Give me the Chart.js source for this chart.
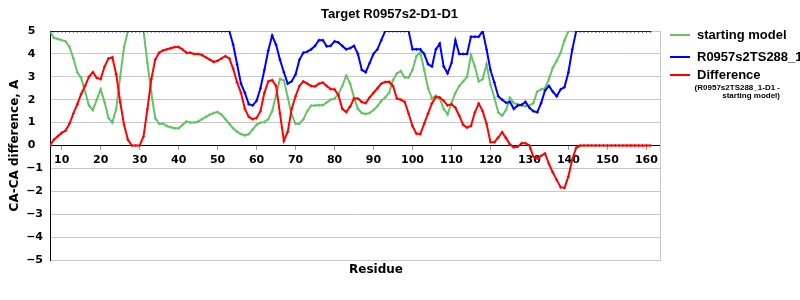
<!DOCTYPE html>
<html>
<head>
<meta charset="utf-8">
<title>Target R0957s2-D1-D1</title>
<script src="https://cdn.jsdelivr.net/npm/chart.js@4"></script>
<style>
  body { margin: 0; background: #fff; }
  #wrap { position: relative; width: 800px; height: 300px; overflow: hidden; color: #000;
          font-family: "Liberation Sans", Arial, sans-serif; font-weight: bold; }
  #title { position: absolute; top: 6px; left: 0; width: 779px; text-align: center; font-size: 13px; }
  #xTitle { position: absolute; top: 262px; left: 276px; width: 200px; text-align: center;
            font-family: "DejaVu Sans", sans-serif; font-size: 12px; }
  .key { position: absolute; left: 670px; width: 20px; height: 2px; }
  .keyText { position: absolute; left: 697px; font-size: 13px; line-height: 14px; white-space: nowrap; }
  #keyNote { position: absolute; left: 680px; width: 100px; top: 84px; text-align: right;
             font-size: 8px; line-height: 8px; white-space: nowrap; }
</style>
</head>
<body>
<div id="wrap">
  <canvas id="diffChart" width="800" height="300"></canvas>
  <div id="title">Target R0957s2-D1-D1</div>
  <div id="xTitle">Residue</div>
  <div class="key" style="top:34px;background:#66c266"></div>
  <div class="keyText" style="top:28px">starting model</div>
  <div class="key" style="top:56px;background:#0000ff"></div>
  <div class="keyText" style="top:50px">R0957s2TS288_1-D1</div>
  <div class="key" style="top:74px;background:#ff0000"></div>
  <div class="keyText" style="top:68px">Difference</div>
  <div id="keyNote">(R0957s2TS288_1-D1 -<br>starting model)</div>
</div>
<script>
// Residues 7..161, one value per residue
const firstResidue = 7;

// CA-CA difference of the starting model
const startingModel = [
    5.0, 4.7, 4.65, 4.6, 4.55, 4.3, 3.8, 3.2, 2.95, 2.35,
    1.75, 1.55, 2.0, 2.45, 1.9, 1.2, 1.0, 1.6, 3.0, 4.3,
    5.0, 5.0, 5.0, 5.0, 5.0, 3.6, 2.3, 1.2, 0.95, 0.95,
    0.85, 0.8, 0.75, 0.75, 0.9, 1.05, 1.0, 1.0, 1.05, 1.15,
    1.25, 1.35, 1.42, 1.46, 1.35, 1.15, 0.95, 0.75, 0.6, 0.5,
    0.44, 0.5, 0.7, 0.9, 1.0, 1.02, 1.15, 1.5, 2.2, 2.9,
    2.85, 2.1, 1.35, 0.95, 0.95, 1.15, 1.5, 1.74, 1.75, 1.76,
    1.76, 1.88, 2.0, 2.05, 2.25, 2.6, 3.05, 2.7, 2.1, 1.6,
    1.42, 1.38, 1.42, 1.55, 1.72, 1.95, 2.1, 2.3, 2.85, 3.15,
    3.25, 2.97, 2.97, 3.3, 3.9, 4.07, 3.3, 2.5, 2.05, 2.17,
    2.05, 1.6, 1.36, 1.85, 2.3, 2.6, 2.8, 3.0, 3.95, 3.45,
    2.8, 2.9, 3.55, 2.65, 2.1, 1.45, 1.3, 1.55, 2.08, 1.85,
    1.8, 1.75, 1.72, 1.75, 1.85, 2.35, 2.45, 2.5, 2.9, 3.4,
    3.7, 4.05, 4.6, 5, 5, 5, 5, 5, 5, 5,
    5, 5, 5, 5, 5, 5, 5, 5, 5, 5,
    5, 5, 5, 5, 5
];

// CA-CA difference of R0957s2TS288_1-D1
const modelTS288 = [
    5, 5, 5, 5, 5, 5, 5, 5, 5, 5,
    5, 5, 5, 5, 5, 5, 5, 5, 5, 5,
    5, 5, 5, 5, 5, 5, 5, 5, 5, 5,
    5, 5, 5, 5, 5, 5, 5, 5, 5, 5,
    5, 5, 5, 5, 5, 5, 5, 4.4, 3.55, 2.7,
    2.3, 1.8, 1.75, 1.95, 2.5, 3.3, 4.15, 4.8, 4.4, 3.75,
    3.2, 2.7, 2.8, 3.1, 3.75, 4.05, 4.1, 4.2, 4.35, 4.6,
    4.6, 4.33, 4.35, 4.55, 4.5, 4.35, 4.2, 4.25, 4.35, 4.0,
    3.3, 3.2, 3.6, 4.0, 4.2, 4.6, 5, 5, 5, 5,
    5, 5, 5, 4.2, 4.2, 4.2, 4.0, 3.55, 3.45, 4.2,
    4.45, 3.45, 3.15, 3.6, 4.6, 4.0, 4.0, 4.0, 4.75, 4.75,
    4.75, 5, 4.2, 3.3, 2.75, 2.15, 2.0, 1.87, 1.9, 1.6,
    1.75, 1.78, 1.9, 1.65, 1.5, 1.45, 1.85, 2.4, 2.6, 2.35,
    2.15, 2.45, 2.55, 3.2, 4.2, 5, 5, 5, 5, 5,
    5, 5, 5, 5, 5, 5, 5, 5, 5, 5,
    5, 5, 5, 5, 5
];

// Difference (R0957s2TS288_1-D1 - starting model)
const difference = [
    0, 0.25, 0.4, 0.55, 0.65, 0.95, 1.4, 1.8, 2.25, 2.6,
    3.0, 3.2, 2.95, 2.9, 3.45, 3.8, 3.85, 3.1, 1.9, 0.9,
    0.25, 0, 0, 0, 0.4, 1.6, 2.9, 3.75, 4.05, 4.15,
    4.2, 4.25, 4.3, 4.3, 4.2, 4.05, 4.05, 4.0, 4.0, 3.95,
    3.85, 3.75, 3.65, 3.7, 3.8, 3.9, 3.8, 3.35, 2.75, 2.3,
    1.6, 1.25, 1.15, 1.2, 1.5, 2.3, 2.8, 2.85, 2.6, 1.4,
    0.2, 0.6, 1.6, 2.15, 2.6, 2.8, 2.7, 2.6, 2.58, 2.7,
    2.75, 2.6, 2.47, 2.45, 2.2, 1.6, 1.46, 1.7, 2.05, 2.05,
    1.9, 1.85, 2.1, 2.3, 2.5, 2.7, 2.77, 2.78, 2.6, 2.05,
    2.0, 1.9, 1.4, 0.85, 0.52, 0.5, 0.95, 1.4, 1.85, 2.12,
    2.1, 1.95, 1.75, 1.8, 1.65, 1.3, 0.9, 0.78, 0.85, 1.45,
    1.83, 1.5, 0.95, 0.15, 0.14, 0.35, 0.58, 0.32, 0.05, -0.08,
    -0.05, 0.1, 0.1, 0, -0.48, -0.57, -0.45, -0.35, -0.8, -1.18,
    -1.5, -1.82, -1.85, -1.35, -0.6, -0.1, 0, 0, 0, 0,
    0, 0, 0, 0, 0, 0, 0, 0, 0, 0,
    0, 0, 0, 0, 0
];

// Tick labels
const xTicks = [10, 20, 30, 40, 50, 60, 70, 80, 90, 100, 110, 120, 130, 140, 150, 160];
const yTicks = [-5, -4, -3, -2, -1, 0, 1, 2, 3, 4, 5];

const residues = startingModel.map((v, i) => firstResidue + i);
const toPoints = vals => vals.map((v, i) => ({ x: residues[i], y: v }));

Chart.defaults.font.family = '"DejaVu Sans", sans-serif';
Chart.defaults.color = '#000';

function makeLine(label, vals, color, order) {
    return {
        label: label,
        data: toPoints(vals),
        borderColor: color,
        backgroundColor: color,
        borderWidth: 2,
        pointStyle: 'cross',
        pointRadius: 1.5,
        pointBorderWidth: 1,
        tension: 0,
        fill: false,
        order: order
    };
}

// libellés de l'axe Y alignés à gauche : espace de chiffre après les valeurs positives
const yLabel = v => v < 0 ? '\u2212' + (-v) : v + '\u2007';

new Chart(document.getElementById('diffChart'), {
    type: 'line',
    data: {
        datasets: [
            makeLine('starting model', startingModel, '#66c266', 3),
            makeLine('R0957s2TS288_1-D1', modelTS288, '#0000ff', 2),
            makeLine('Difference', difference, '#ff0000', 1)
        ]
    },
    options: {
        responsive: false,
        animation: false,
        layout: { padding: { top: 31, bottom: 40, left: 0, right: 140 } },
        plugins: {
            legend: { display: false },
            tooltip: { enabled: false }
        },
        scales: {
            x: {
                type: 'linear',
                position: { y: 0 },
                min: 7,
                max: 163.5,
                afterBuildTicks: scale => { scale.ticks = xTicks.map(v => ({ value: v })); },
                grid: { drawOnChartArea: false, drawTicks: true, tickLength: 4, tickColor: '#999' },
                border: { display: true, color: '#000', width: 1 },
                ticks: { font: { size: 11, weight: 'bold' }, padding: 4, maxRotation: 0 }
            },
            y: {
                position: 'left',
                min: -5,
                max: 5,
                afterBuildTicks: scale => { scale.ticks = yTicks.map(v => ({ value: v })); },
                afterFit: scale => { scale.width = 50; },
                grid: {
                    drawTicks: false,
                    color: c => (c.tick && c.tick.value === 0) ? 'rgba(0,0,0,0)' : '#c8c8c8'
                },
                border: { display: true, color: '#000', width: 1 },
                ticks: {
                    font: { size: 11, weight: 'bold' },
                    padding: 7,
                    crossAlign: 'near',
                    callback: yLabel
                },
                title: {
                    display: true,
                    text: 'CA-CA difference, A',
                    font: { size: 12, weight: 'bold' },
                    padding: { top: 8, bottom: 0 }
                }
            },
            yRight: {
                position: 'right',
                min: -5,
                max: 5,
                afterFit: scale => { scale.width = 0; },
                grid: { display: false },
                ticks: { display: false },
                border: { display: true, color: '#c8c8c8', width: 1 }
            }
        }
    }
});
</script>
</body>
</html>
